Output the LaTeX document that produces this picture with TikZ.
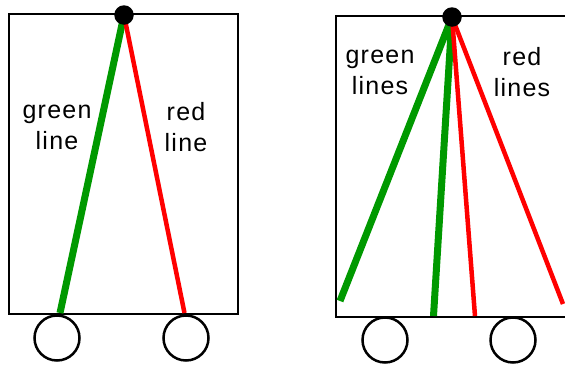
\documentclass[tikz,border=0pt]{standalone}
\usepackage{fontspec}
\setmainfont{Liberation Sans}[LetterSpace=5]
\definecolor{linegreen}{RGB}{0,153,0}
\definecolor{linered}{RGB}{255,0,0}

\begin{document}
\begin{tikzpicture}[x=1pt, y=-1pt,
  cart/.style={line width=2.5pt},
  wheel/.style={draw, circle, line width=2.5pt, minimum size=45pt, inner sep=0pt},
  pivot/.style={fill=black, circle, minimum size=19.5pt, inner sep=0pt},
  gline/.style={draw=linegreen, line width=7pt},
  rline/.style={draw=linered, line width=4.5pt},
  lbl/.style={align=center, inner sep=0pt, font=\fontsize{25}{31}\selectfont}]
  \useasboundingbox (0,0) rectangle (565,365);
  \clip (0,0) rectangle (565,365);
  % left cart: one line each
  \draw[cart] (9,14) rectangle (238,314);
  \node[wheel] (wl1) at (57,338) {};
  \node[wheel] (wl2) at (186,338) {};
  \coordinate (top1) at (124,15);
  \coordinate (gend1) at (60,313);
  \coordinate (rend1) at (184.5,313);
  \draw[gline] (top1) -- (gend1);
  \draw[rline] (top1) -- (rend1);
  \node[pivot] (pv1) at (top1) {};
  \node[lbl] (gtxt1) at (57,127) {green\\line};
  \node[lbl] (rtxt1) at (186,127) {red\\line};
  % right cart: two lines each
  \draw[cart] (336,16) rectangle (590,317);
  \node[wheel] (wr1) at (385,340) {};
  \node[wheel] (wr2) at (513,340) {};
  \coordinate (top2) at (452,17);
  \coordinate (gend2) at (340,301);
  \coordinate (gend3) at (433.5,316);
  \coordinate (rend2) at (475,316);
  \coordinate (rend3) at (563,304);
  \draw[gline] (top2) -- (gend2);
  \draw[gline] (top2) -- (gend3);
  \draw[rline] (top2) -- (rend2);
  \draw[rline] (top2) -- (rend3);
  \node[pivot] (pv2) at (top2) {};
  \node[lbl] (gtxt2) at (380,72) {green\\lines};
  \node[lbl] (rtxt2) at (522,72) {red\\lines};
\end{tikzpicture}
\end{document}
